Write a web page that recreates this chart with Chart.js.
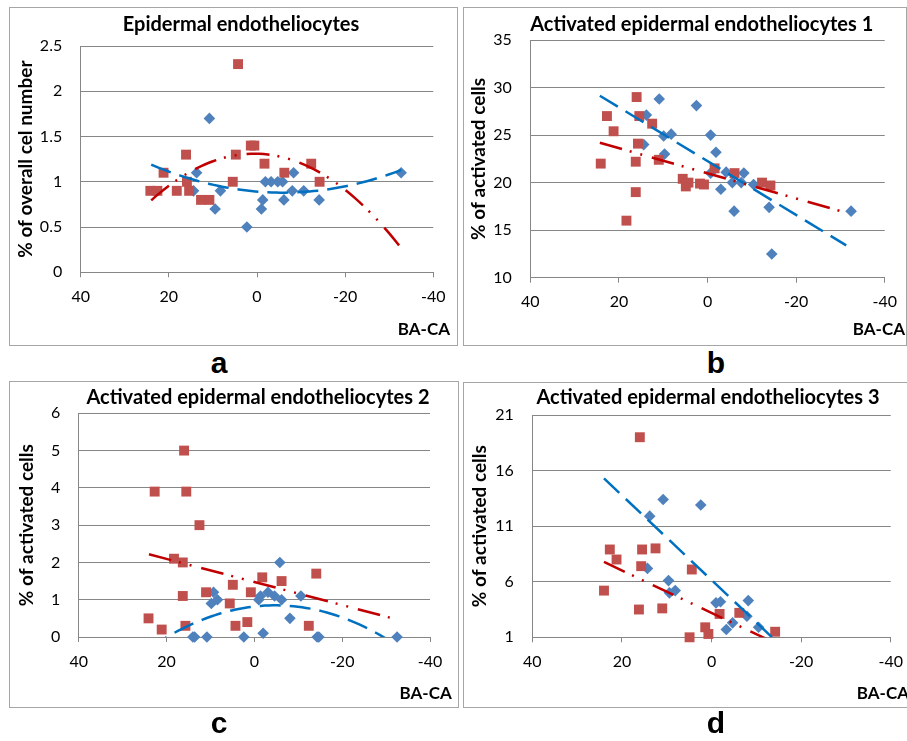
<!DOCTYPE html>
<html>
<head>
<meta charset="utf-8">
<script src="https://cdn.jsdelivr.net/npm/chart.js@4.4.1/dist/chart.umd.min.js"></script>
<style>
  body { margin: 0; background: #fff; }
  #wrap { position: relative; width: 907px; height: 741px; overflow: hidden; }
  .box { position: absolute; border: 1.5px solid #a6a6a6; box-sizing: border-box; }
  canvas { position: absolute; }
  .letter { position: absolute; width: 60px; margin-left: -30px; text-align: center;
            font: bold 30px "Liberation Sans", Arial, sans-serif; line-height: 30px; color: #000; }
</style>
</head>
<body>
<div id="wrap">
  <div class="box" style="left:9px;top:7px;width:449px;height:339px"></div>
  <div class="box" style="left:463px;top:7px;width:444px;height:339px"></div>
  <div class="box" style="left:9px;top:381px;width:450px;height:327px"></div>
  <div class="box" style="left:463px;top:382px;width:450px;height:326px"></div>
  <canvas id="chartA" width="449" height="339" style="left:9px;top:7px"></canvas>
  <canvas id="chartB" width="444" height="339" style="left:463px;top:7px"></canvas>
  <canvas id="chartC" width="450" height="327" style="left:9px;top:381px"></canvas>
  <canvas id="chartD" width="450" height="326" style="left:463px;top:382px"></canvas>
  <div class="letter" style="left:219px;top:348px">a</div>
  <div class="letter" style="left:716px;top:348px">b</div>
  <div class="letter" style="left:219px;top:708px">c</div>
  <div class="letter" style="left:716px;top:708px">d</div>
</div>
<script>
// BA-CA on the x axis, shared by all four panels
const xTicks = [40, 20, 0, -20, -40];
const xLabel = 'BA-CA';

// a - Epidermal endotheliocytes
const aSquareX = [24.2, 22.6, 21.2, 18.2, 16.1, 15.9, 15.4, 12.7, 10.8, 5.5, 4.8, 4.3, 1.4, 0.6, -1.7, -6.2, -12.3, -14.2];
const aSquareY = [0.9, 0.9, 1.1, 0.9, 1.3, 1.0, 0.9, 0.8, 0.8, 1.0, 1.3, 2.3, 1.4, 1.4, 1.2, 1.1, 1.2, 1.0];
const aDiamondX = [13.7, 14.4, 10.8, 9.5, 8.3, 2.3, -1.0, -1.3, -1.9, -3.2, -4.7, -5.8, -6.1, -8.0, -8.3, -10.6, -14.1, -32.7];
const aDiamondY = [1.1, 0.9, 1.7, 0.7, 0.9, 0.5, 0.7, 0.8, 1.0, 1.0, 1.0, 1.0, 0.8, 0.9, 1.1, 0.9, 0.8, 1.1];
const aYTicks = [0, 0.5, 1, 1.5, 2, 2.5];
// trendline coefficients [c0, c1, c2] for y = c0 + c1*x + c2*x^2
const aSquareTrend = [1.3097, 0.001116, -0.00094];
const aDiamondTrend = [0.892, 0.00407, 0.000347];
const aTrendX = [24, -32.7];

// b - Activated epidermal endotheliocytes 1
const bSquareX = [24.1, 22.7, 21.2, 18.3, 16.2, 16.2, 16.0, 15.7, 15.4, 12.5, 11.0, 5.6, 4.9, 4.3, 1.7, 0.8, -1.6, -6.1, -12.3, -14.2];
const bSquareY = [22.0, 27.0, 25.4, 16.0, 19.0, 22.2, 29.0, 24.1, 27.0, 26.2, 22.4, 20.4, 19.6, 20.0, 19.9, 19.8, 21.5, 21.0, 20.0, 19.7];
const bDiamondX = [13.8, 14.4, 10.9, 9.9, 8.2, 9.7, 2.5, -0.7, -1.9, -0.7, -3.0, -4.2, -5.6, -6.0, -7.6, -8.2, -10.4, -13.9, -14.5, -32.4];
const bDiamondY = [27.1, 24.0, 28.8, 24.9, 25.1, 23.0, 28.1, 25.0, 23.2, 21.0, 19.3, 21.1, 20.0, 17.0, 20.0, 21.0, 19.8, 17.4, 12.5, 17.0];
const bYTicks = [10, 15, 20, 25, 30, 35];
const bSquareTrend = [20.98, 0.1323, 0];
const bDiamondTrend = [22.26, 0.2831, 0];
const bTrendX = [24.3, -31.3];

// c - Activated epidermal endotheliocytes 2
const cSquareX = [24.1, 22.7, 21.1, 18.3, 16.3, 16.0, 16.3, 15.7, 15.5, 12.5, 11.0, 5.6, 4.9, 4.3, 1.6, 0.8, -1.8, -6.2, -12.4, -14.1];
const cSquareY = [0.5, 3.9, 0.2, 2.1, 2.0, 5.0, 1.1, 0.3, 3.9, 3.0, 1.2, 0.9, 1.4, 0.3, 0.4, 1.2, 1.6, 1.5, 0.3, 1.7];
const cDiamondX = [14.0, 13.6, 10.8, 9.3, 9.8, 8.4, 2.4, -1.0, -1.4, -2.0, -3.1, -4.6, -5.8, -6.2, -8.1, -10.6, -14.3, -14.7, -32.5];
const cDiamondY = [0, 0, 0, 1.2, 0.9, 1.0, 0, 1.0, 1.1, 0.1, 1.2, 1.1, 2.0, 1.0, 0.5, 1.1, 0, 0, 0];
const cYTicks = [0, 1, 2, 3, 4, 5, 6];
const cSquareTrend = [1.476, 0.031, 0];
const cDiamondTrend = [0.8184, -0.0133, -0.0014];
const cTrendX = [24, -32.5];

// d - Activated epidermal endotheliocytes 3
const dSquareX = [24.0, 22.7, 21.2, 16.2, 16.0, 15.7, 15.5, 12.5, 11.0, 4.4, 4.9, 1.4, 0.7, -1.8, -6.2, -14.2];
const dSquareY = [5.2, 8.9, 8.0, 3.5, 19.0, 7.4, 8.9, 9.0, 3.6, 7.1, 1.0, 1.9, 1.3, 3.1, 3.2, 1.5];
const dDiamondX = [13.8, 14.3, 10.8, 9.6, 9.4, 8.1, 2.4, -1.0, -2.0, -3.3, -4.7, -7.9, -8.2, -10.5];
const dDiamondY = [11.9, 7.2, 13.4, 6.1, 5.0, 5.2, 12.9, 4.1, 4.2, 1.7, 2.3, 2.9, 4.3, 1.9];
const dYTicks = [1, 6, 11, 16, 21];
const dSquareTrend = [3.194, 0.191, 0];
const dDiamondTrend = [6.154, 0.381, 0];
const dTrendX = [24, -32.5];

const FONT = 'Lato, "Open Sans", sans-serif';
Chart.defaults.font.family = FONT;
Chart.defaults.color = '#000';

const pair = (xs, ys) => xs.map((x, i) => ({ x: x, y: ys[i] }));

// points along a fitted trendline between the two x limits
function trendPoints(coef, range) {
  const pts = [];
  const from = Math.max(range[0], range[1]);
  const to = Math.min(range[0], range[1]);
  const steps = coef[2] === 0 ? 1 : 60;
  for (let i = 0; i <= steps; i++) {
    const x = from - (from - to) * i / steps;
    pts.push({ x: x, y: coef[0] + coef[1] * x + coef[2] * x * x });
  }
  return pts;
}

// draws the panel title and the BA-CA label at the right bottom corner
const panelText = {
  id: 'panelText',
  afterDraw(chart, args, opts) {
    const ctx = chart.ctx;
    ctx.save();
    ctx.fillStyle = '#000';
    ctx.textBaseline = 'middle';
    ctx.font = 'bold 20px ' + FONT;
    ctx.textAlign = 'center';
    ctx.fillText(opts.title, opts.titleX, opts.titleY);
    ctx.font = 'bold 17px ' + FONT;
    ctx.textAlign = 'right';
    ctx.fillText(xLabel, opts.labelX, opts.labelY);
    ctx.restore();
  }
};

function makePanel(p) {
  const ctx = document.getElementById(p.canvas).getContext('2d');
  return new Chart(ctx, {
    type: 'scatter',
    data: {
      datasets: [
        {
          data: trendPoints(p.squareTrend, p.trendX),
          showLine: true,
          pointRadius: 0,
          borderColor: '#c00000',
          borderWidth: 2.5,
          borderDash: [23, 8, 2, 9, 2, 10],
          order: 0
        },
        {
          data: trendPoints(p.diamondTrend, p.trendX),
          showLine: true,
          pointRadius: 0,
          borderColor: '#0070c0',
          borderWidth: 2.5,
          borderDash: [21, 9],
          order: 0
        },
        {
          data: pair(p.squareX, p.squareY),
          pointStyle: 'rect',
          pointRadius: 7,
          pointHoverRadius: 7,
          backgroundColor: '#c0504d',
          borderColor: '#c0504d',
          borderWidth: 0,
          clip: false,
          order: 1
        },
        {
          data: pair(p.diamondX, p.diamondY),
          pointStyle: 'rectRot',
          pointRadius: 5.8,
          pointHoverRadius: 5.8,
          backgroundColor: '#4f81bd',
          borderColor: '#4f81bd',
          borderWidth: 0,
          clip: false,
          order: 2
        }
      ]
    },
    options: {
      responsive: false,
      animation: false,
      events: [],
      layout: { padding: { left: 0, right: p.padRight, top: p.padTop, bottom: 0 } },
      plugins: {
        legend: { display: false },
        tooltip: { enabled: false },
        panelText: { title: p.title, titleX: p.titleX, titleY: p.titleY, labelX: p.labelX, labelY: p.labelY }
      },
      scales: {
        x: {
          type: 'linear',
          reverse: true,
          min: -40,
          max: 40,
          afterBuildTicks: s => { s.ticks = xTicks.map(v => ({ value: v })); },
          afterFit: s => { s.height = p.xHeight; },
          ticks: { font: { size: 16 }, padding: 10, maxRotation: 0, autoSkip: false,
                   callback: v => String(v) },
          grid: { drawOnChartArea: false, drawTicks: true, tickLength: 5, color: '#868686' },
          border: { color: '#868686', width: 1 }
        },
        y: {
          min: p.yTicks[0],
          max: p.yTicks[p.yTicks.length - 1],
          afterBuildTicks: s => { s.ticks = p.yTicks.map(v => ({ value: v })); },
          afterFit: s => { s.width = p.yWidth; },
          ticks: { font: { size: 16 }, padding: 18.5, callback: v => String(v) },
          grid: { color: '#868686', drawTicks: false },
          border: { color: '#868686', width: 1 },
          title: {
            display: true,
            text: p.yTitle,
            font: { size: 19, weight: 'bold' },
            padding: { top: p.yTitlePad, bottom: 0 }
          }
        }
      }
    },
    plugins: [panelText]
  });
}

makePanel({
  canvas: 'chartA', title: 'Epidermal endotheliocytes', yTitle: '% of overall cel number',
  squareX: aSquareX, squareY: aSquareY, diamondX: aDiamondX, diamondY: aDiamondY,
  squareTrend: aSquareTrend, diamondTrend: aDiamondTrend, trendX: aTrendX, yTicks: aYTicks,
  yWidth: 71.7, padRight: 24.7, padTop: 39, xHeight: 73.7, yTitlePad: 5.6,
  titleX: 232, titleY: 18, labelX: 441, labelY: 323
});
makePanel({
  canvas: 'chartB', title: 'Activated epidermal endotheliocytes 1', yTitle: '% of activated cells',
  squareX: bSquareX, squareY: bSquareY, diamondX: bDiamondX, diamondY: bDiamondY,
  squareTrend: bSquareTrend, diamondTrend: bDiamondTrend, trendX: bTrendX, yTicks: bYTicks,
  yWidth: 67.3, padRight: 18.7, padTop: 33, xHeight: 68.3, yTitlePad: 4.6,
  titleX: 238.7, titleY: 18, labelX: 442, labelY: 323
});
makePanel({
  canvas: 'chartC', title: 'Activated epidermal endotheliocytes 2', yTitle: '% of activated cells',
  squareX: cSquareX, squareY: cSquareY, diamondX: cDiamondX, diamondY: cDiamondY,
  squareTrend: cSquareTrend, diamondTrend: cDiamondTrend, trendX: cTrendX, yTicks: cYTicks,
  yWidth: 69.7, padRight: 29, padTop: 32.3, xHeight: 71, yTitlePad: 6.6,
  titleX: 249, titleY: 16.7, labelX: 442.7, labelY: 313
});
makePanel({
  canvas: 'chartD', title: 'Activated epidermal endotheliocytes 3', yTitle: '% of activated cells',
  squareX: dSquareX, squareY: dSquareY, diamondX: dDiamondX, diamondY: dDiamondY,
  squareTrend: dSquareTrend, diamondTrend: dDiamondTrend, trendX: dTrendX, yTicks: dYTicks,
  yWidth: 69.3, padRight: 20.7, padTop: 33, xHeight: 70.7, yTitlePad: 5.6,
  titleX: 245, titleY: 15.7, labelX: 446, labelY: 312
});
</script>
</body>
</html>
